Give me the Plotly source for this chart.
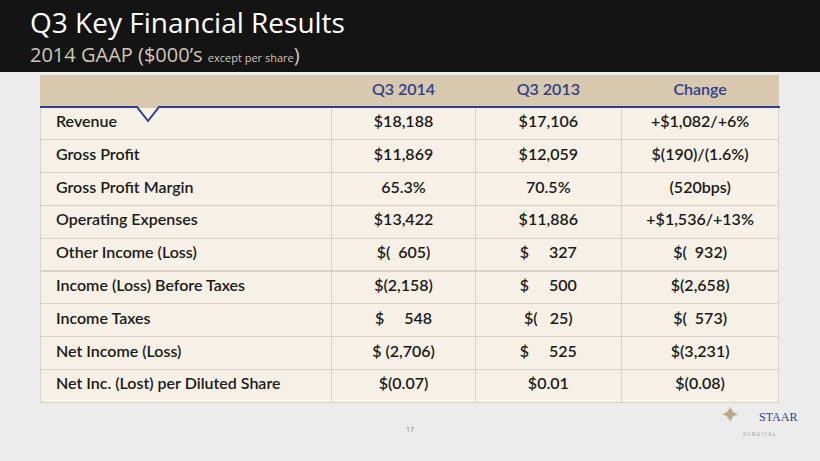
import plotly.graph_objects as go

header = ["", "Q3 2014", "Q3 2013", "Change"]
metrics = ["Revenue", "Gross Profit", "Gross Profit Margin", "Operating Expenses",
           "Other Income (Loss)", "Income (Loss) Before Taxes", "Income Taxes",
           "Net Income (Loss)", "Net Inc. (Lost) per Diluted Share"]
q3_2014 = ["$18,188", "$11,869", "65.3%", "$13,422", "$(  605)", "$(2,158)",
           "$     548", "$ (2,706)", "$(0.07)"]
q3_2013 = ["$17,106", "$12,059", "70.5%", "$11,886", "$     327", "$     500",
           "$(   25)", "$     525", "$0.01"]
change = ["+$1,082/+6%", "$(190)/(1.6%)", "(520bps)", "+$1,536/+13%", "$(  932)",
          "$(2,658)", "$(  573)", "$(3,231)", "$(0.08)"]

W, H = 820, 461
fig = go.Figure(go.Table(
    domain=dict(x=[40/W, 780/W], y=[1-404/H, 1-75/H]),
    columnwidth=[292, 144, 146, 158],
    header=dict(values=header, fill_color="#d8c8ae", line_color="#d8c8ae",
                align="center", height=32,
                font=dict(family="Lato", size=16, color="#2e3f8c", weight=600)),
    cells=dict(values=[["  " + m for m in metrics], q3_2014, q3_2013, change],
               fill_color="#f6f0e6", line_color="#d9d2c6",
               align=["left", "center", "center", "center"], height=32.8,
               font=dict(family="Lato", size=16, color="#1a1a1a", weight=600)),
))

def py(p):
    return 1 - p / H

fig.update_layout(
    width=W, height=H, margin=dict(l=0, r=0, t=0, b=0),
    paper_bgcolor="#ececec",
    shapes=[
        dict(type="rect", xref="paper", yref="paper", x0=0, x1=1, y0=py(72), y1=1,
             fillcolor="#141414", line_width=0, layer="below"),
        dict(type="path", xref="paper", yref="paper",
             path=f"M {40/W} {py(107)} L {137/W} {py(107)} L {148/W} {py(121)} L {159/W} {py(107)} L {780/W} {py(107)}",
             line=dict(color="#2e3f8c", width=2)),
    ],
    annotations=[
        dict(text="Q3 Key Financial Results", x=28/W, y=py(22), xref="paper", yref="paper",
             xanchor="left", yanchor="middle", showarrow=False,
             font=dict(family="Open Sans", size=28, color="#ffffff")),
        dict(text="2014 GAAP ($000’s <span style='font-size:11px'>except per share</span>)",
             x=28/W, y=py(55), xref="paper", yref="paper", xanchor="left", yanchor="middle",
             showarrow=False, font=dict(family="Open Sans", size=20, color="#cfc6b8")),
        dict(text="17", x=410/W, y=py(436), xref="paper", yref="paper", showarrow=False,
             font=dict(family="Open Sans", size=7, color="#888")),
        dict(text="STAAR", x=778/W, y=py(426), xref="paper", yref="paper", xanchor="center",
             showarrow=False, font=dict(family="Liberation Serif", size=12, color="#2e3f8c")),
        dict(text="S U R G I C A L", x=778/W, y=py(439), xref="paper", yref="paper",
             showarrow=False, font=dict(family="Open Sans", size=5, color="#999")),
        dict(text="✦", x=742/W, y=py(432), xref="paper", yref="paper", showarrow=False,
             font=dict(size=24, color="#b8a888")),
    ],
)
fig.write_html("out.html", config={"displayModeBar": False},
               post_script="document.body.style.margin='0';")
